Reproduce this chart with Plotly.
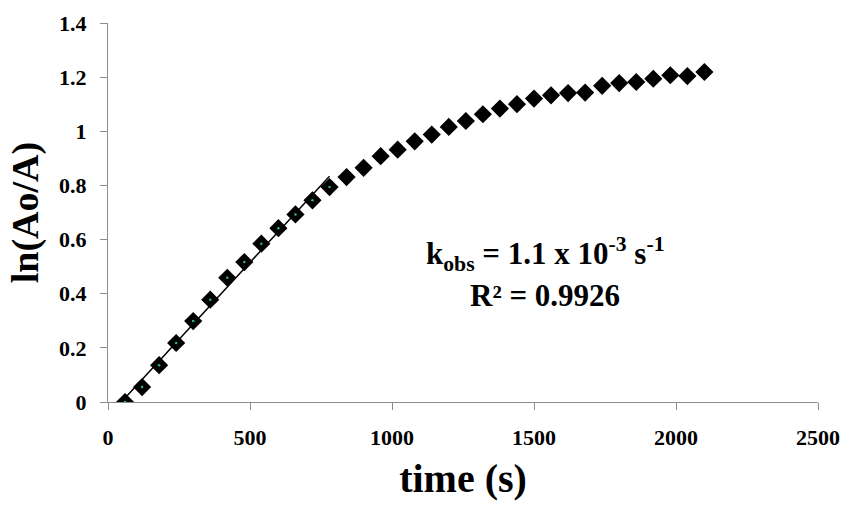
import numpy as np
import plotly.graph_objects as go

# Data
time_s = [60, 120, 180, 240, 300, 360, 420, 480, 540, 600, 660, 720, 780,
          840, 900, 960, 1020, 1080, 1140, 1200, 1260, 1320, 1380, 1440, 1500,
          1560, 1620, 1680, 1740, 1800, 1860, 1920, 1980, 2040, 2100]
ln_ratio = [0.0, 0.055, 0.136, 0.218, 0.299, 0.378, 0.459, 0.517, 0.585, 0.642, 0.693,
            0.745, 0.794, 0.831, 0.865, 0.908, 0.932, 0.963, 0.988, 1.016, 1.038,
            1.063, 1.084, 1.100, 1.121, 1.133, 1.141, 1.143, 1.168, 1.178, 1.182,
            1.194, 1.207, 1.204, 1.219]
n_fit = 13  # points used for the linear fit (60 s .. 780 s)

x_ticks = [0, 500, 1000, 1500, 2000, 2500]
y_ticks = [0, 0.2, 0.4, 0.6, 0.8, 1.0, 1.2, 1.4]
y_tick_text = ["0", "0.2", "0.4", "0.6", "0.8", "1", "1.2", "1.4"]

fit_x = np.array(time_s[:n_fit], dtype=float)
fit_y = np.array(ln_ratio[:n_fit], dtype=float)
slope, intercept = np.polyfit(fit_x, fit_y, 1)
line_x = [fit_x[0], fit_x[-1]]
line_y = [slope * v + intercept for v in line_x]

FONT = "Liberation Serif, Times New Roman, serif"

fig = go.Figure()
fig.add_trace(go.Scatter(
    x=time_s, y=ln_ratio, mode="markers",
    marker=dict(symbol="diamond", size=14, color="black", line=dict(width=0)),
    showlegend=False, hoverinfo="skip"))
fig.add_trace(go.Scatter(
    x=line_x, y=line_y, mode="lines",
    line=dict(color="black", width=1.5),
    showlegend=False, hoverinfo="skip"))
fig.add_trace(go.Scatter(
    x=time_s[:n_fit], y=ln_ratio[:n_fit], mode="markers",
    marker=dict(symbol="circle", size=2.5, color="#2bb58a"),
    showlegend=False, hoverinfo="skip"))

fig.add_annotation(
    x=1540, y=0.545, xref="x", yref="y", showarrow=False,
    text="<b>k<sub>obs</sub> = 1.1 x 10<sup>-3</sup> s<sup>-1</sup></b>",
    font=dict(family=FONT, size=31, color="black"))
fig.add_annotation(
    x=1540, y=0.395, xref="x", yref="y", showarrow=False,
    text="<b>R² = 0.9926</b>",
    font=dict(family=FONT, size=31, color="black"))

fig.update_xaxes(
    range=[0, 2500], tickvals=x_ticks, ticktext=["<b>%d</b>" % v for v in x_ticks],
    showgrid=False, zeroline=False, showline=True, linecolor="#8c8c8c", linewidth=1,
    ticks="outside", ticklen=7, tickcolor="#8c8c8c", ticklabelstandoff=9,
    automargin=False,
    tickfont=dict(family=FONT, size=22, color="black"),
    title=dict(text="<b>time (s)</b>", font=dict(family=FONT, size=40, color="black"),
               standoff=14))
fig.update_yaxes(
    range=[0, 1.4], tickvals=y_ticks, ticktext=["<b>%s</b>" % t for t in y_tick_text],
    showgrid=False, zeroline=False, showline=True, linecolor="#8c8c8c", linewidth=1,
    ticks="outside", ticklen=7, tickcolor="#8c8c8c", ticklabelstandoff=9,
    automargin=False,
    tickfont=dict(family=FONT, size=22, color="black"),
    title=dict(text="<b>ln(Ao/A)</b>", font=dict(family=FONT, size=38, color="black"),
               standoff=8))

fig.update_layout(
    width=846, height=506,
    margin=dict(l=108, r=28, t=23, b=104),
    paper_bgcolor="white", plot_bgcolor="white")

fig.write_html("out.html", config={"displayModeBar": False},
               post_script="document.body.style.margin='0';document.body.style.overflow='hidden';")
